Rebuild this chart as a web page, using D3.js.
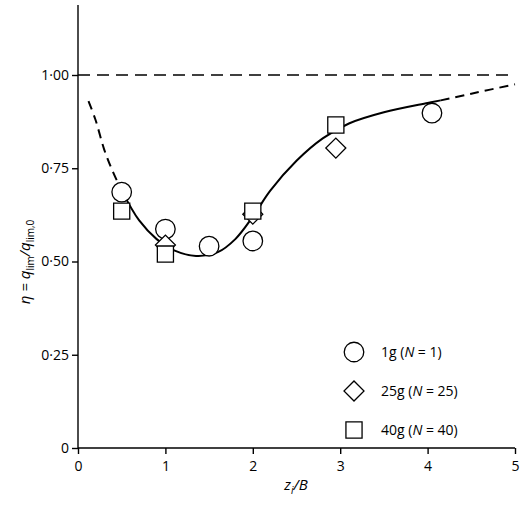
<!DOCTYPE html><html><head><meta charset="utf-8"><script src="https://d3js.org/d3.v7.min.js"></script>
<style>body{margin:0;background:#fff}text{font-family:"Open Sans",Arial,sans-serif}</style></head><body><svg id="c" width="520" height="509"></svg>
<script>
const xTicks=[0,1,2,3,4,5];
const yTicks=[0,0.25,0.5,0.75,1.0];
const yTickLabels=["0","0·25","0·50","0·75","1·00"];
const circles=[[0.5,0.686],[1.0,0.587],[1.5,0.541],[2.0,0.555],[4.05,0.898]];
const diamonds=[[1.0,0.544],[2.0,0.627],[2.95,0.804]];
const squares=[[0.5,0.635],[1.0,0.52],[2.0,0.635],[2.95,0.866]];
const dashA=[[0.12,0.93],[0.2,0.88],[0.3,0.8],[0.4,0.74],[0.5,0.69]];
const solid=[[0.5,0.69],[0.7,0.61],[0.9,0.56],[1.1,0.53],[1.35,0.515],[1.6,0.525],[1.8,0.56],[2.0,0.62],[2.2,0.69],[2.5,0.77],[2.8,0.83],[3.1,0.87],[3.5,0.9],[4.0,0.925],[4.15,0.932]];
const dashB=[[4.15,0.932],[4.5,0.95],[5,0.975]];
const legend=[["circle","1g","1"],["diamond","25g","25"],["square","40g","40"]];
const svg=d3.select("#c");
const x=d3.scaleLinear().domain([0,5]).range([78,515]);
const y=d3.scaleLinear().domain([0,1]).range([448,75]);
svg.append("g").attr("transform","translate(0,448)").call(d3.axisBottom(x).tickValues(xTicks).tickSize(6).tickFormat(d3.format("d")))
 .call(g=>{g.select(".domain").attr("d","M78,0H515");g.selectAll("text").attr("font-size",14).attr("dy","1em");});
svg.append("g").attr("transform","translate(78,0)").call(d3.axisLeft(y).tickValues(yTicks).tickSize(6).tickFormat((d,i)=>yTickLabels[i]))
 .call(g=>{g.select(".domain").attr("d","M0,5V448");g.selectAll("text").attr("font-size",14);});
svg.selectAll(".domain,.tick line").attr("stroke","#000").attr("stroke-width",1.4);
svg.append("line").attr("x1",x(0)).attr("x2",x(5)).attr("y1",y(1)).attr("y2",y(1)).attr("stroke","#000").attr("stroke-width",1.5).attr("stroke-dasharray","12,7");
const line=d3.line().x(d=>x(d[0])).y(d=>y(d[1])).curve(d3.curveCatmullRom);
svg.append("path").attr("d",line(dashA)).attr("fill","none").attr("stroke","#000").attr("stroke-width",2).attr("stroke-dasharray","9,6");
svg.append("path").attr("d",line(solid)).attr("fill","none").attr("stroke","#000").attr("stroke-width",2);
svg.append("path").attr("d",line(dashB)).attr("fill","none").attr("stroke","#000").attr("stroke-width",2).attr("stroke-dasharray","9,6");
const sym={circle:d3.symbol(d3.symbolCircle,300),diamond:d3.symbol(d3.symbolSquare,200),square:d3.symbol(d3.symbolSquare,260)};
const rot={circle:0,diamond:45,square:0};
function draw(data,t){svg.selectAll(null).data(data).enter().append("path").attr("d",sym[t]()).attr("transform",d=>`translate(${x(d[0])},${y(d[1])}) rotate(${rot[t]})`).attr("fill","#fff").attr("stroke","#000").attr("stroke-width",1.3);}
draw(circles,"circle");draw(diamonds,"diamond");draw(squares,"square");
legend.forEach((l,i)=>{const yy=352+i*39;
 svg.append("path").attr("d",sym[l[0]]()).attr("transform",`translate(354,${yy}) rotate(${rot[l[0]]})`).attr("fill","#fff").attr("stroke","#000").attr("stroke-width",1.3);
 const t=svg.append("text").attr("x",381).attr("y",yy+5).attr("font-size",14);
 t.append("tspan").text(l[1]+" (");t.append("tspan").attr("font-style","italic").text("N");t.append("tspan").text(" = "+l[2]+")");});
const xl=svg.append("text").attr("x",296).attr("y",490).attr("text-anchor","middle").attr("font-size",15).attr("font-style","italic");
xl.append("tspan").text("z");xl.append("tspan").attr("font-size",10).attr("dy",4).text("i");xl.append("tspan").attr("dy",-4).text("/B");
const yl=svg.append("text").attr("transform","translate(30,262) rotate(-90)").attr("text-anchor","middle").attr("font-size",15).attr("font-style","italic");
yl.append("tspan").text("η = q");yl.append("tspan").attr("font-size",10).attr("dy",4).attr("font-style","normal").text("lim");
yl.append("tspan").attr("dy",-4).text("/q");yl.append("tspan").attr("font-size",10).attr("dy",4).attr("font-style","normal").text("lim,0");
</script></body></html>
